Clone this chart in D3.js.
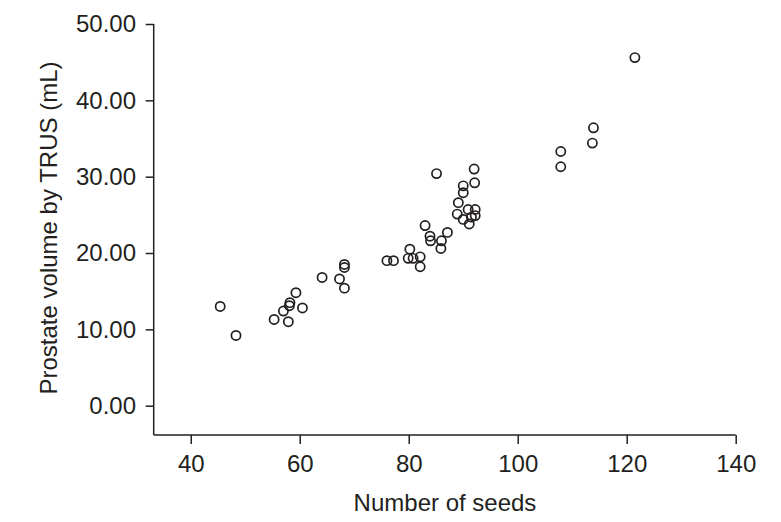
<!DOCTYPE html>
<html>
<head>
    <title>Seeds vs prostate volume</title>
    <meta charset="UTF-8">
    <script type="text/javascript" src="https://cdn.jsdelivr.net/npm/d3@7"></script>
    <style>
        body { margin: 0; background: #fff; }
        text { font-family: "Liberation Sans", Arial, Helvetica, sans-serif; fill: #231f20; }
    </style>
</head>
<body>
<svg id="chart" width="781" height="522"></svg>
<script type="text/javascript">
    // number of seeds
    var seeds = [45.4, 48.3, 55.3, 57.0, 57.9, 58.1, 58.2, 59.3, 60.5,
        64.1, 67.3, 68.2, 68.2, 68.2, 76.0, 77.2, 79.9, 80.2, 80.8, 82.1, 82.1,
        83.0, 83.9, 84.0, 85.9, 86.0, 87.1, 85.1, 88.9, 89.1, 90.0, 90.0, 90.0,
        90.9, 91.1, 91.5, 92.0, 92.1, 92.2, 92.2,
        107.9, 107.9, 113.7, 113.9, 121.5];
    // prostate volume by TRUS (mL)
    var volumes = [13.0, 9.2, 11.3, 12.4, 11.0, 13.1, 13.5, 14.8, 12.8,
        16.8, 16.6, 18.5, 18.1, 15.4, 19.0, 19.0, 19.3, 20.5, 19.3, 19.5, 18.2,
        23.6, 22.2, 21.6, 20.6, 21.6, 22.7, 30.4, 25.1, 26.6, 28.8, 27.9, 24.4,
        25.7, 23.8, 24.7, 31.0, 29.2, 25.7, 24.9,
        33.3, 31.3, 34.4, 36.4, 45.6];
    var xTicks = [40, 60, 80, 100, 120, 140];
    var yTicks = [0, 10, 20, 30, 40, 50];

    var fontSize = 24;
    var svg = d3.select("#chart");

    var x = d3.scaleLinear().domain([33.2, 140]).range([153.7, 735.7]);
    var y = d3.scaleLinear().domain([-3.84, 50]).range([435, 24]);

    // x axis
    var xAxis = svg.append("g")
            .attr("transform", "translate(0,435)")
            .call(d3.axisBottom(x).tickValues(xTicks).tickSize(9).tickSizeOuter(0).tickPadding(11));
    // y axis
    var yAxis = svg.append("g")
            .attr("transform", "translate(153.7,0)")
            .call(d3.axisLeft(y).tickValues(yTicks).tickSize(8).tickSizeOuter(0).tickPadding(9.7)
                .tickFormat(d3.format(".2f")));

    [xAxis, yAxis].forEach(function(a) {
        a.select(".domain").attr("stroke", "#231f20").attr("stroke-width", 1.5);
        a.selectAll(".tick line").attr("stroke", "#231f20").attr("stroke-width", 1.5);
        a.selectAll(".tick text")
                .attr("font-size", fontSize)
                .attr("font-family", "'Liberation Sans', Arial, Helvetica, sans-serif")
                .attr("fill", "#231f20");
    });

    // axis lines run the full plot area
    xAxis.select(".domain").attr("d", "M153.7,0H735.7");
    yAxis.select(".domain").attr("d", "M0,435V24");

    svg.append("text")
            .attr("x", 445)
            .attr("y", 511)
            .attr("text-anchor", "middle")
            .attr("font-size", fontSize)
            .text("Number of seeds");

    svg.append("text")
            .attr("transform", "translate(57,228) rotate(-90)")
            .attr("text-anchor", "middle")
            .attr("font-size", fontSize)
            .text("Prostate volume by TRUS (mL)");

    svg.append("g").selectAll("circle")
            .data(seeds)
            .enter()
            .append("circle")
            .attr("cx", function(d) { return x(d); })
            .attr("cy", function(d, i) { return y(volumes[i]); })
            .attr("r", 4.6)
            .attr("fill", "none")
            .attr("stroke", "#231f20")
            .attr("stroke-width", 1.7);
</script>
</body>
</html>
